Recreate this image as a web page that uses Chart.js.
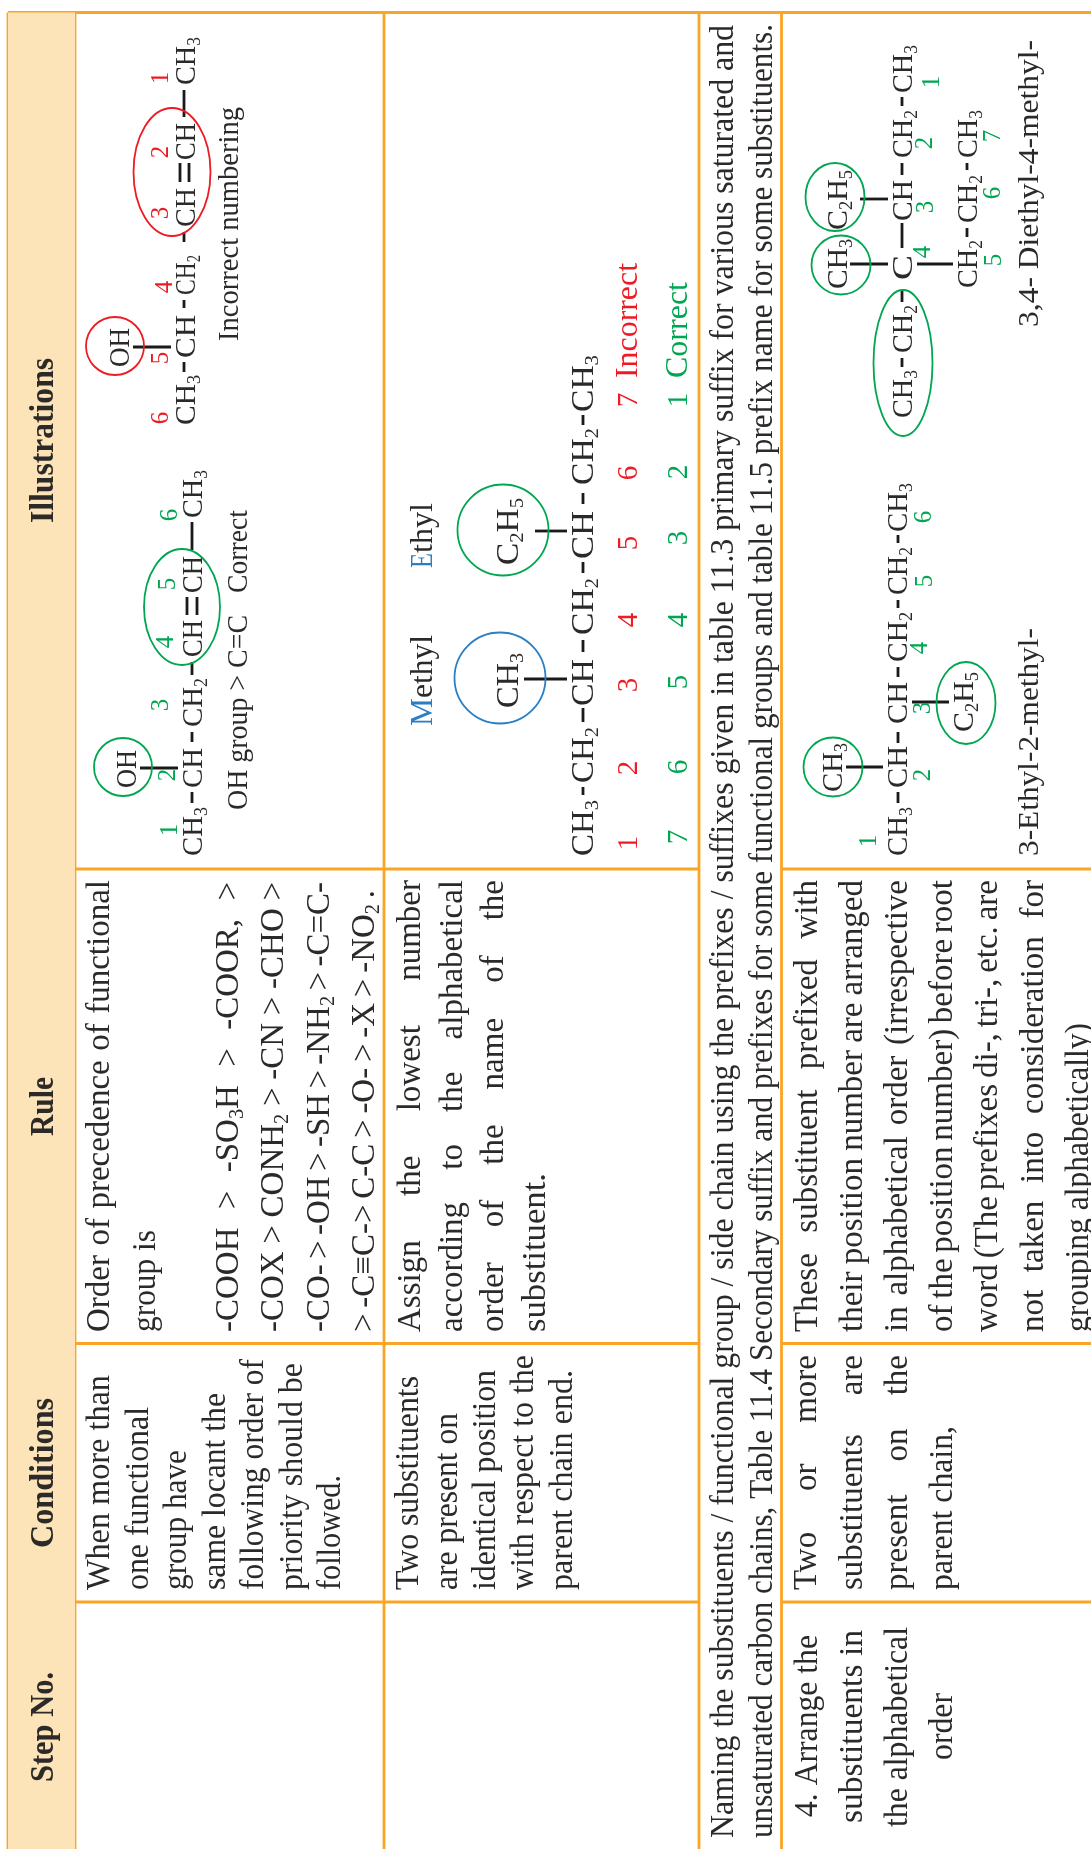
<!DOCTYPE html>
<html>
<head>
<meta charset="utf-8">
<script src="https://cdn.jsdelivr.net/npm/chart.js@4"></script>
<style>
  html, body { margin: 0; padding: 0; background: #fff; }
  canvas { display: block; }
</style>
</head>
<body>
<canvas id="tableChart" width="1091" height="1849"></canvas>
<script>
// table content (words only, _ marks a subscript character)
const headers = ['Step No.', 'Conditions', 'Rule', 'Illustrations'];
const conditions1 = ['When more than', 'one functional', 'group have', 'same locant the', 'following order of', 'priority should be', 'followed.'];
const conditions2 = ['Two substituents', 'are present on', 'identical position', 'with respect to the', 'parent chain end.'];
const conditions3 = ['Two or more', 'substituents are', 'present on the', 'parent chain,'];
const rule1 = ['Order of precedence of functional', 'group is', '-COOH > -SO_3H > -COOR, >', '-COX > CONH_2 > -CN > -CHO >', '-CO- > -OH > -SH > -NH_2 > -C=C-', '> -C≡C-> C-C > -O- > -X > -NO_2 .'];
const rule2 = ['Assign the lowest number', 'according to the alphabetical', 'order of the name of the', 'substituent.'];
const rule3 = ['These substituent prefixed with', 'their position number are arranged', 'in alphabetical order (irrespective', 'of the position number) before root', 'word (The prefixes di-, tri-, etc. are', 'not taken into consideration for', 'grouping alphabetically)'];
const step4 = ['4. Arrange the', 'substituents in', 'the alphabetical', 'order'];
const band = [
  'Naming the substituents / functional group / side chain using the prefixes / suffixes given in table 11.3 primary suffix for various saturated and',
  'unsaturated carbon chains, Table 11.4 Secondary suffix and prefixes for some functional groups and table 11.5 prefix name for some substituents.'
];

// illustrations: chain pieces, in reading order
const mol1 = ['CH_3', 'CH', 'CH_2', 'CH', 'CH', 'CH_3', 'OH'];
const mol2 = ['CH_3', 'CH', 'CH_2', 'CH', 'CH', 'CH_3', 'OH'];
const mol3 = ['CH_3', 'CH_2', 'CH', 'CH_2', 'CH', 'CH_2', 'CH_3', 'CH_3', 'C_2H_5'];
const mol4 = ['CH_3', 'CH', 'CH', 'CH_2', 'CH_2', 'CH_3', 'CH_3', 'C_2H_5'];
const mol5 = ['CH_3', 'CH_2', 'C', 'CH', 'CH_2', 'CH_3', 'CH_2', 'CH_2', 'CH_3', 'CH_3', 'C_2H_5'];
const captions = ['Incorrect numbering', 'OH group > C=C', 'Correct', '3-Ethyl-2-methyl-', '3,4- Diethyl-4-methyl-'];
const substituentNames = ['M', 'ethyl', 'E', 'thyl'];
const verdicts = ['Incorrect', 'Correct'];
const locants = ['1', '2', '3', '4', '5', '6', '7'];

// layout, in picture pixels: [baseline x, bottom y, top y, justify]
const colEdges = [8, 75, 384, 699, 781.5];
const rowEdges = [12.5, 869, 1343.5, 1602];
const headerPos = [[53, 1782, 1672], [53, 1548, 1398], [53, 1136, 1077], [53, 523, 358]];
const conditions1Pos = [[109, 1590, 1375], [148, 1590, 1407], [186, 1590, 1450], [225, 1590, 1393], [263, 1590, 1359], [302, 1590, 1363], [340, 1590, 1475]];
const conditions2Pos = [[418, 1590, 1376], [457, 1590, 1413], [495, 1590, 1370], [533, 1590, 1355], [572, 1590, 1370]];
const conditions3Pos = [[816, 1590, 1355, 1], [862, 1590, 1355, 1], [907, 1590, 1355, 1], [952, 1590, 1426]];
const rule1Pos = [[109, 1332, 880, 1], [155, 1332, 1230], [238, 1332, 882, 1], [283, 1332, 882, 1], [329, 1332, 882, 1], [374, 1332, 890, 1]];
const rule2Pos = [[420, 1332, 880, 1], [462, 1332, 880, 1], [503, 1332, 880, 1], [545, 1332, 1173]];
const rule3Pos = [[817, 1332, 880, 1], [862, 1332, 880, 1], [907, 1332, 880, 1], [952, 1332, 880, 1], [997, 1332, 880, 1], [1043, 1332, 880, 1], [1088, 1332, 1023]];
const step4Pos = [[817, 1817, 1635], [862, 1823, 1630], [907, 1827, 1627], [952, 1760, 1693]];
const bandPos = [[733, 1838, 25], [772, 1838, 24]];

const mol1Pos = [[195, 425, 375], [195, 358, 315], [195, 295, 255], [195, 227, 188], [195, 160, 123], [195, 85, 37], [129, 367, 328]];
const mol2Pos = [[202, 856, 807], [202, 788, 748], [202, 727, 678], [202, 657, 620], [202, 593, 556], [202, 518, 470], [136, 788, 750]];
const mol3Pos = [[593, 856, 800], [593, 783, 727], [593, 706, 659], [593, 635, 578], [593, 559, 511], [593, 485, 428], [593, 412, 355], [518, 708, 653], [518, 565, 498]];
const mol4Pos = [[907, 856, 807], [907, 788, 746], [907, 724, 682], [907, 662, 612], [907, 595, 547], [907, 532, 483], [842, 792, 743], [973, 732, 672]];
const mol5Pos = [[912, 418, 370], [912, 353, 305], [912, 280, 255], [912, 221, 180], [912, 158, 110], [912, 93, 45], [977, 288, 240], [977, 223, 175], [977, 158, 110], [847, 289, 239], [847, 230, 170]];
const captionPos = [[238, 341, 107], [247, 810, 615], [247, 593, 510], [1038, 856, 628], [1038, 327, 40]];
const namePos = [[432, 726, 698], [432, 698, 635], [432, 568, 553], [432, 553, 503]];
const verdictPos = [[637, 378, 263], [687, 378, 282]];

// locant numbers: [baseline x, centre y], index + 1 is the number shown
const mol1Red = [[168, 78], [168, 152], [168, 213], [172, 287], [168, 358], [168, 418]];
const mol2Green = [[177, 830], [175, 775], [168, 705], [173, 642], [175, 584], [177, 515]];
const mol3Red = [[637, 843], [637, 768], [637, 685], [637, 620], [637, 543], [637, 473], [637, 400]];
const mol3Green = [[687, 400], [687, 472], [687, 538], [687, 620], [687, 682], [687, 767], [687, 837]];
const mol4Green = [[876, 841], [930, 775], [930, 708], [927, 648], [932, 581], [931, 517]];
const mol5Green = [[939, 82], [932, 143], [933, 207], [930, 252], [1001, 260], [1000, 193], [1000, 136]];

// bonds: [x1, y1, x2, y2]
const bonds = [
  [184, 372, 184, 362], [184, 308, 184, 300], [184, 242, 184, 232], [180, 182, 180, 163], [189, 182, 189, 163], [184, 117, 184, 90], [133, 347, 171, 347],
  [192, 803, 192, 792], [192, 742, 192, 732], [192, 675, 192, 662], [187, 615, 187, 597], [197, 615, 197, 597], [192, 550, 192, 522], [140, 768, 178, 768],
  [583, 795, 583, 787], [583, 722, 583, 708], [583, 652, 583, 640], [583, 573, 583, 562], [583, 504, 583, 493], [583, 425, 583, 415], [524, 679, 567, 679], [535, 531, 567, 531],
  [898, 803, 898, 792], [898, 743, 898, 732], [898, 677, 898, 667], [898, 608, 898, 600], [898, 543, 898, 535], [846, 767, 883, 767], [912, 702, 949, 702],
  [902, 367, 902, 358], [902, 302, 902, 290], [902, 248, 902, 223], [902, 175, 902, 163], [902, 106, 902, 97], [967, 237, 967, 228], [967, 170, 967, 163],
  [917, 264, 953, 264], [850, 264, 888, 264], [860, 199, 888, 199]
];

// rings round groups: [cx, cy, rx, ry]
const redRings = [[115, 346, 29, 29], [172, 172, 38.5, 64]];
const greenRings = [[123, 767, 29, 29], [182, 607, 38, 58], [503, 530, 45.5, 45.5], [833, 767, 29.5, 29.5], [966, 703, 29.5, 41], [841, 265, 29.5, 29.5], [835, 197, 29.5, 34], [903, 363, 29.5, 73]];
const blueRings = [[500, 678, 45.5, 45.5]];

const ORANGE = '#faa526';
const CREAM = '#fde3b8';
const INK = '#2b2a29';
const RED = '#ed1c24';
const GREEN = '#00a651';
const BLUE = '#2a7fc4';
const SERIF = '"Liberation Serif", serif';

function segment(x1, y1, x2, y2, color, width) {
  return {
    data: [{ x: x1, y: y1 }, { x: x2, y: y2 }],
    showLine: true,
    pointRadius: 0,
    borderColor: color,
    borderWidth: width,
    borderCapStyle: 'butt'
  };
}

const datasets = [{
  data: [{ x: colEdges[0], y: rowEdges[0] }, { x: colEdges[1], y: rowEdges[0] }],
  showLine: true,
  pointRadius: 0,
  borderWidth: 0,
  backgroundColor: CREAM,
  fill: { value: 1849 }
}];
colEdges.forEach(x => datasets.push(segment(x, rowEdges[0], x, 1849, ORANGE, 2.8)));
datasets.push(segment(colEdges[0], rowEdges[0], 1091, rowEdges[0], ORANGE, 2.8));
rowEdges.slice(1).forEach(y => {
  datasets.push(segment(colEdges[0], y, colEdges[3], y, ORANGE, 2.8));
  datasets.push(segment(colEdges[4], y, 1091, y, ORANGE, 2.8));
});
bonds.forEach(b => datasets.push(segment(b[0], b[1], b[2], b[3], '#1a1a1a', 2.8)));

// rotated line of text, runs bottom to top between y0 and y1
function parseRuns(word) {
  const out = [];
  let buf = '';
  for (let i = 0; i < word.length; i++) {
    if (word[i] === '_') {
      if (buf) out.push({ t: buf, sub: false });
      buf = '';
      out.push({ t: word[++i], sub: true });
    } else {
      buf += word[i];
    }
  }
  if (buf) out.push({ t: buf, sub: false });
  return out;
}

function drawText(chart, text, pos, font) {
  const { ctx, scales } = chart;
  const [base, y0, y1, justify] = pos;
  const size = font.size;
  const mainFont = `${font.weight || 'normal'} ${size}px ${SERIF}`;
  const subFont = `${font.weight || 'normal'} ${size * 0.62}px ${SERIF}`;
  const words = text.split(' ').map(parseRuns);
  const widthOf = run => {
    ctx.font = run.sub ? subFont : mainFont;
    return ctx.measureText(run.t).width;
  };
  const wordWidth = w => w.reduce((s, r) => s + widthOf(r), 0);
  const wordsTotal = words.reduce((s, w) => s + wordWidth(w), 0);
  const gaps = words.length - 1;
  const spaceW = size * 0.25;
  const target = y0 - y1;
  let gap = spaceW;
  let sx = 1;
  if (justify && gaps > 0) gap = (target - wordsTotal) / gaps;
  else sx = target / (wordsTotal + gaps * spaceW);

  ctx.save();
  ctx.translate(scales.x.getPixelForValue(base), scales.y.getPixelForValue(y0));
  ctx.rotate(-Math.PI / 2);
  ctx.scale(sx, 1);
  ctx.fillStyle = font.color || INK;
  ctx.textAlign = 'left';
  ctx.textBaseline = 'alphabetic';
  let at = 0;
  words.forEach(w => {
    w.forEach(r => {
      ctx.font = r.sub ? subFont : mainFont;
      ctx.fillText(r.t, at, r.sub ? size * 0.16 : 0);
      at += ctx.measureText(r.t).width;
    });
    at += gap;
  });
  ctx.restore();
}

function drawLocants(chart, places, color, size) {
  const { ctx, scales } = chart;
  places.forEach((p, i) => {
    ctx.save();
    ctx.translate(scales.x.getPixelForValue(p[0]), scales.y.getPixelForValue(p[1]));
    ctx.rotate(-Math.PI / 2);
    ctx.font = `${size}px ${SERIF}`;
    ctx.fillStyle = color;
    ctx.textAlign = 'center';
    ctx.textBaseline = 'alphabetic';
    ctx.fillText(locants[i], 0, 0);
    ctx.restore();
  });
}

function drawRings(chart, rings, color) {
  const { ctx, scales } = chart;
  ctx.save();
  ctx.strokeStyle = color;
  ctx.lineWidth = 1.8;
  rings.forEach(r => {
    ctx.beginPath();
    ctx.ellipse(scales.x.getPixelForValue(r[0]), scales.y.getPixelForValue(r[1]), r[2], r[3], 0, 0, Math.PI * 2);
    ctx.stroke();
  });
  ctx.restore();
}

const tablePlugin = {
  id: 'tableText',
  afterDatasetsDraw(chart) {
    const place = (texts, spots, font) => texts.forEach((t, i) => drawText(chart, t, spots[i], font));
    const body = { size: 33 };
    const chem = { size: 29 };
    place(headers, headerPos, { size: 33, weight: 'bold' });
    place(conditions1, conditions1Pos, body);
    place(conditions2, conditions2Pos, body);
    place(conditions3, conditions3Pos, body);
    place(rule1, rule1Pos, body);
    place(rule2, rule2Pos, body);
    place(rule3, rule3Pos, body);
    place(step4, step4Pos, body);
    place(band, bandPos, body);
    place(mol1, mol1Pos, chem);
    place(mol2, mol2Pos, chem);
    place(mol3, mol3Pos, { size: 32 });
    place(mol4, mol4Pos, chem);
    place(mol5, mol5Pos, chem);
    place(captions, captionPos, chem);
    substituentNames.forEach((t, i) => drawText(chart, t, namePos[i], { size: 31, color: i % 2 ? INK : BLUE }));
    drawText(chart, verdicts[0], verdictPos[0], { size: 32, color: RED });
    drawText(chart, verdicts[1], verdictPos[1], { size: 32, color: GREEN });
    drawLocants(chart, mol1Red, RED, 25);
    drawLocants(chart, mol2Green, GREEN, 25);
    drawLocants(chart, mol3Red, RED, 29);
    drawLocants(chart, mol3Green, GREEN, 29);
    drawLocants(chart, mol4Green, GREEN, 25);
    drawLocants(chart, mol5Green, GREEN, 25);
    drawRings(chart, redRings, RED);
    drawRings(chart, greenRings, GREEN);
    drawRings(chart, blueRings, BLUE);
  }
};

new Chart(document.getElementById('tableChart').getContext('2d'), {
  type: 'scatter',
  data: { datasets },
  options: {
    responsive: false,
    animation: false,
    layout: { padding: 0 },
    scales: {
      x: { type: 'linear', min: 0, max: 1091, display: false },
      y: { type: 'linear', min: 0, max: 1849, reverse: true, display: false }
    },
    plugins: {
      legend: { display: false },
      title: { display: false },
      tooltip: { enabled: false }
    }
  },
  plugins: [tablePlugin]
});
</script>
</body>
</html>
